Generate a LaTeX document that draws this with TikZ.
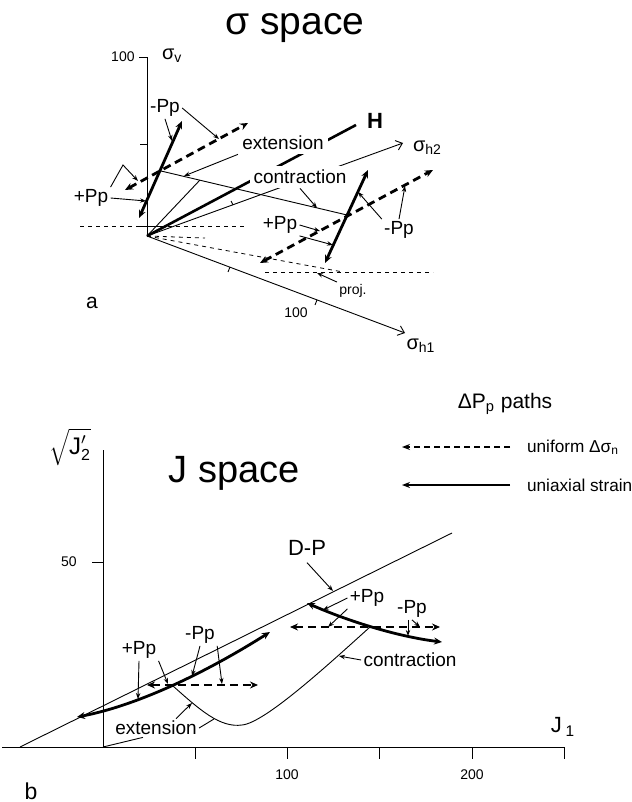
\documentclass[tikz,border=0pt]{standalone}
\usepackage{fontspec}
\setmainfont{Liberation Sans}
\usetikzlibrary{arrows.meta}

\begin{document}
\begin{tikzpicture}[x=0.5pt,y=-0.5pt,
  axisline/.style={line width=0.45pt},
  axisarrow/.style={line width=0.45pt,-{Straight Barb[length=3pt,width=5pt]}},
  unipath/.style={line width=1.4pt,{Stealth[length=4pt,width=3.5pt]}-{Stealth[length=4pt,width=3.5pt]}},
  unidash/.style={unipath,dash pattern=on 4pt off 2.5pt},
  projdash/.style={line width=0.4pt,dash pattern=on 2pt off 2pt},
  leader/.style={line width=0.45pt,-{Stealth[length=3pt,width=2.2pt]}},
  lbl/.style={font=\fontsize{9.5}{11}\selectfont,inner sep=1pt},
  masklbl/.style={lbl,fill=white,inner sep=2pt},
  numlbl/.style={font=\fontsize{7}{8}\selectfont,inner sep=1pt}]
\path[use as bounding box] (0,0) rectangle (631,802);

% --- panel a: sigma space ---
\node[font=\fontsize{19.5}{22}\selectfont] (ttlA) at (295,28) {σ space};
\coordinate (O) at (147,236);
\coordinate (vtop) at (147,57);
\coordinate (h1end) at (405,333);
\coordinate (h2end) at (403,143);
\coordinate (Hend) at (356,125);
\coordinate (E) at (161,171);
\coordinate (C) at (347,215);
\coordinate (P) at (200,180);
\coordinate (eSa) at (139,218);
\coordinate (eSb) at (182,121);
\coordinate (eDa) at (125,190);
\coordinate (eDb) at (248,123);
\coordinate (cSa) at (325,263);
\coordinate (cSb) at (368,170);
\coordinate (cDa) at (260,263);
\coordinate (cDb) at (433,170);

% axes
\draw[axisline] (O) -- (vtop) -- ++(-8,0);
\draw[axisline] (147,144) -- ++(-7,0);
\draw[axisarrow] (O) -- (h1end);
\draw[axisarrow] (O) -- (h2end);
\draw[axisline] (230,267) -- ++(-2,5);
\draw[axisline] (317,300) -- ++(-2,5);
\draw[axisline] (233,205) -- ++(-2,-4);
\draw[line width=1.3pt] (O) -- (Hend);
\draw[projdash] (80,226) -- (247,226);
\draw[axisline] (140,226) -- (163,226);
\draw[projdash] (O) -- (205,238);
\draw[projdash] (O) -- (343,272);
\draw[projdash] (265,272) -- (433,272);
\node[numlbl,anchor=east] (v100) at (137,57) {100};
\node[font=\fontsize{10}{12}\selectfont,anchor=west] (sv) at (155,56) {σ\textsubscript{v}};
\node[font=\fontsize{10}{12}\selectfont,anchor=west] (sh2) at (406,148) {σ\textsubscript{h2}};
\node[font=\fontsize{10}{12}\selectfont] (sh1) at (421,346) {σ\textsubscript{h1}};
\node[numlbl] (h100) at (296,313) {100};
\node[font=\fontsize{11}{12}\bfseries,anchor=west] (Hlbl) at (360,121) {H};

% paths in sigma space
\draw[axisline] (E) -- (C);
\draw[axisline] (O) -- (P);
\draw[unipath] (eSa) -- (eSb);
\draw[unidash] (eDa) -- (eDb);
\draw[unipath] (cSa) -- (cSb);
\draw[unidash] (cDa) -- (cDb);

% labels and leaders
\node[masklbl] (extA) at (283,143) {extension};
\node[masklbl] (conA) at (300,177) {contraction};
\node[lbl] (ppTL) at (165,108) {-Pp};
\node[lbl] (ppL) at (91,198) {+Pp};
\node[lbl] (ppM) at (280,225) {+Pp};
\node[lbl] (ppR) at (399,230) {-Pp};
\node[font=\fontsize{7}{8}\selectfont,inner sep=1pt] (proj) at (353,291) {proj.};
\node[font=\fontsize{10.5}{12}\selectfont] (tagA) at (92,303) {a};
\coordinate (kinkL) at (123,165);
\draw[leader] (ppTL.south) -- (172,141);
\draw[leader] (ppTL.east) -- (219,139);
\draw[leader] (ppL.east) -- (146,201);
\draw[leader] (ppL.north east) -- (kinkL) -- (138,181);
\draw[leader] (extA.south west) -- (184,176);
\draw[leader] (conA.south) -- (317,208);
\draw[leader] (ppM.east) -- (320,231);
\draw[leader] (ppM.south east) -- (333,245);
\draw[leader] (ppR.north west) -- (358,192);
\draw[leader] (ppR.north) -- (405,186);
\draw[leader] (proj.north west) -- (317,273);

% --- panel b: J space ---
\node[font=\fontsize{19}{22}\selectfont] (ttlB) at (234,473) {J space};
\node[font=\fontsize{10.5}{12}\selectfont] (legT) at (505,404) {ΔP\textsubscript{p} paths};
\node[font=\fontsize{8.6}{10}\selectfont,anchor=west] (legU) at (520,447) {uniform Δσ\textsubscript{n}};
\node[font=\fontsize{8.6}{10}\selectfont,anchor=west] (legS) at (520,485) {uniaxial strain};
\draw[line width=0.8pt,dash pattern=on 3pt off 2pt,-{Stealth[length=4pt,width=3pt]}] (legU.west) ++(-10,0) -- (402,447);
\draw[line width=0.8pt,-{Stealth[length=4pt,width=3pt]}] (legS.west) ++(-10,0) -- (402,485);

\coordinate (O2) at (103,747);
\coordinate (Jtop) at (103,450);
\coordinate (Jleft) at (2,747);
\coordinate (J1end) at (564,747);
\coordinate (DPa) at (20,747);
\coordinate (DPb) at (452,533);
\coordinate (Xe) at (173,686);
\coordinate (Xc) at (370,627);
\coordinate (xSa) at (77,717);
\coordinate (xSb) at (270,632);
\coordinate (xDa) at (147,685);
\coordinate (xDb) at (258,685);
\coordinate (kSa) at (307,603);
\coordinate (kSb) at (442,642);
\coordinate (kDa) at (290,627);
\coordinate (kDb) at (440,627);

\draw[axisline] (Jtop) -- (O2);
\draw[axisline] (Jleft) -- (J1end);
\draw[axisline] (92,562) -- (103,562);
\foreach \tx in {195,287,379,472,564}
  \draw[axisline] (\tx,747) -- (\tx,759);
\node[font=\fontsize{12}{14}\selectfont] (sqJ) at (70,447) {$\sqrt{\hbox{J}^{\prime}_{\hbox{\fontsize{8}{9}\selectfont 2}}}$};
\node[numlbl] (n50) at (69,562) {50};
\node[numlbl] (n100) at (287,775) {100};
\node[numlbl] (n200) at (472,775) {200};
\node[font=\fontsize{11}{12}\selectfont] (J1) at (563,727) {J\,\textsubscript{1}};
\node[font=\fontsize{11.5}{13}\selectfont] (tagB) at (31,791) {b};

% D-P line and stress paths
\draw[axisline] (DPa) -- (DPb);
\draw[axisline] (Xe) .. controls (200,710) and (220,728) .. (242,725)
  .. controls (265,723) and (330,663) .. (Xc);
\draw[unipath] (xSa) .. controls (140,705) and (210,670) .. (xSb);
\draw[unidash] (xDa) -- (xDb);
\draw[unipath] (kSa) .. controls (350,622) and (400,637) .. (kSb);
\draw[unidash] (kDa) -- (kDb);

\node[font=\fontsize{11}{12}\selectfont] (DP) at (307,548) {D-P};
\node[lbl] (ppB1) at (139,650) {+Pp};
\node[lbl] (mpB1) at (200,635) {-Pp};
\node[lbl] (extB) at (156,728) {extension};
\node[lbl] (ppB2) at (367,598) {+Pp};
\node[lbl] (mpB2) at (412,609) {-Pp};
\node[lbl] (conB) at (410,660) {contraction};
\draw[leader] (DP.south) -- (333,591);
\draw[leader] (ppB1.south) -- (138,699);
\draw[leader] (ppB1.south east) -- (168,684);
\draw[leader] (mpB1.south) -- (192,676);
\draw[leader] (mpB1.south east) -- (222,684);
\draw[leader] ([xshift=10pt]extB.north) -- (192,703);
\draw[axisline] (extB.east) -- (214,719);
\draw[axisline] ([xshift=15pt]extB.south west) -- (O2);
\draw[leader] (ppB2.west) -- (323,610);
\draw[leader] (ppB2.south west) -- (328,627);
\draw[leader] (mpB2.south) -- (420,627);
\draw[leader] ([xshift=-2pt]mpB2.south) -- (408,636);
\draw[leader] (conB.west) -- (339,656);
\end{tikzpicture}
\end{document}
